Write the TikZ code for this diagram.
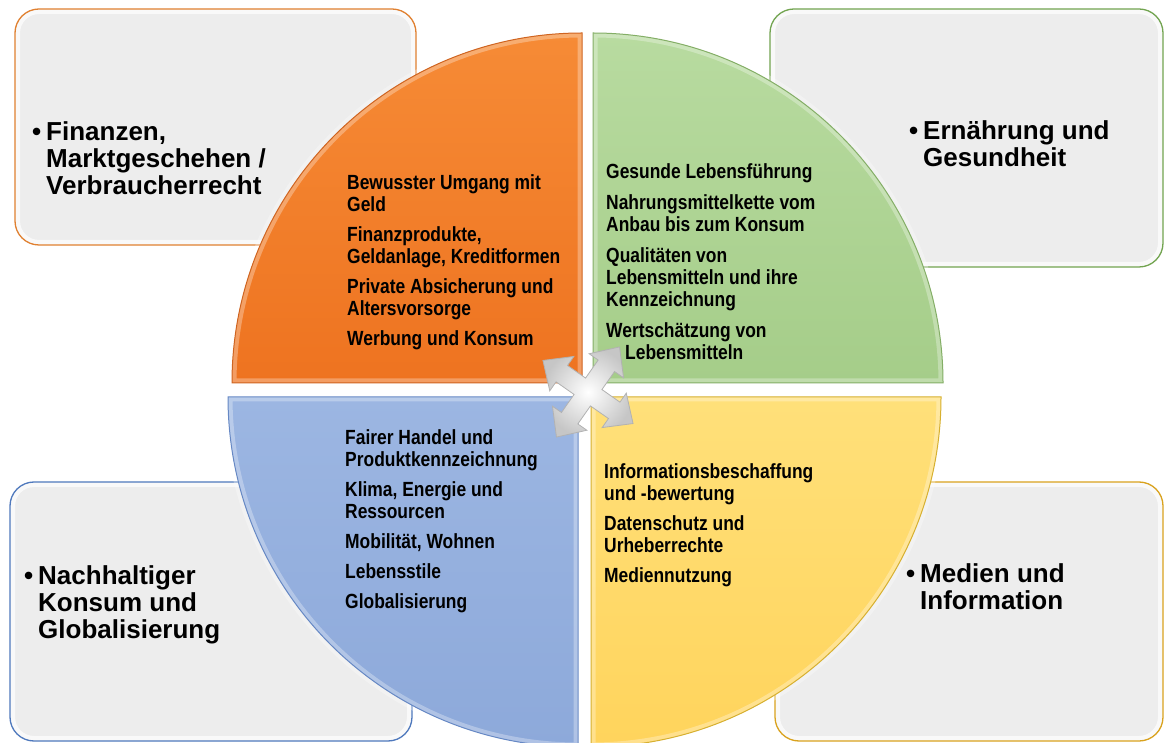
\documentclass[tikz,border=0pt]{standalone}
\usepackage{fontspec}
\setmainfont{Liberation Sans}
\newfontfamily\narrowfont[FakeStretch=0.85]{Liberation Sans}
\definecolor{boxgray}{HTML}{EDEDED}
\definecolor{lineorange}{HTML}{E08030}
\definecolor{linegreen}{HTML}{72A450}
\definecolor{lineblue}{HTML}{4F79BD}
\definecolor{linegold}{HTML}{D9A21E}
\definecolor{orangetop}{HTML}{F68B36}
\definecolor{orangebot}{HTML}{EE7320}
\definecolor{orangeedge}{HTML}{CF6420}
\definecolor{greentop}{HTML}{B8DBA0}
\definecolor{greenbot}{HTML}{A5CD89}
\definecolor{greenedge}{HTML}{84AE66}
\definecolor{bluetop}{HTML}{9CB6E2}
\definecolor{bluebot}{HTML}{8DA9DA}
\definecolor{blueedge}{HTML}{6688C4}
\definecolor{yellowtop}{HTML}{FFE07A}
\definecolor{yellowbot}{HTML}{FFD45C}
\definecolor{yellowedge}{HTML}{D7B030}
\begin{document}
\begin{tikzpicture}[x=1pt,y=1pt,
	box/.style={rounded corners=24pt, fill=boxgray,
		postaction={draw=white, draw opacity=.7, line width=10pt},
		postaction={draw=#1, line width=1.3pt}},
	quarter/.style={postaction={draw=white, draw opacity=.3, line width=9pt},
		postaction={draw=#1, line width=1pt}},
	topic/.style={anchor=north west, align=left, inner sep=0pt,
		font=\bfseries\fontsize{26}{27}\selectfont},
	items/.style={anchor=north west, align=left, inner sep=0pt,
		font=\narrowfont\bfseries\fontsize{20.5}{22}\selectfont}]
	\useasboundingbox (0,0) rectangle (1164,742);
	% the four fields
	\path[box=lineorange] (15,497) rectangle (416,733);
	\path[box=linegreen] (770,475) rectangle (1163,733);
	\path[box=lineblue] (10,1) rectangle (412,260);
	\path[box=linegold] (775,1) rectangle (1163,260);
	\node[topic] (finance) at (46,621) {\llap{•\hspace{5pt}}Finanzen,\\Marktgeschehen /\\Verbraucherrecht};
	\node[topic] (food) at (923,622) {\llap{•\hspace{5pt}}Ernährung und\\Gesundheit};
	\node[topic] (global) at (38,177) {\llap{•\hspace{5pt}}Nachhaltiger\\Konsum und\\Globalisierung};
	\node[topic] (media) at (920,179) {\llap{•\hspace{5pt}}Medien und\\Information};
	% circle in four quarters
	\path[quarter=orangeedge, top color=orangetop, bottom color=orangebot]
		(582,359) -- (232,359) arc[start angle=180, end angle=90, radius=350] -- cycle;
	\path[quarter=greenedge, top color=greentop, bottom color=greenbot]
		(593,359) -- (593,709) arc[start angle=90, end angle=0, radius=350] -- cycle;
	\path[quarter=blueedge, top color=bluetop, bottom color=bluebot]
		(578,345) -- (578,-5) arc[start angle=270, end angle=180, radius=350] -- cycle;
	\path[quarter=yellowedge, top color=yellowtop, bottom color=yellowbot]
		(591,345) -- (941,345) arc[start angle=0, end angle=-90, radius=350] -- cycle;
	\node[items] (money) at (347,568) {Bewusster Umgang mit\\Geld\\[8pt]Finanzprodukte,\\Geldanlage, Kreditformen\\[8pt]Private Absicherung und\\Altersvorsorge\\[8pt]Werbung und Konsum};
	\node[items] (health) at (606,579) {Gesunde Lebensführung\\[9pt]Nahrungsmittelkette vom\\Anbau bis zum Konsum\\[9pt]Qualitäten von\\Lebensmitteln und ihre\\Kennzeichnung\\[9pt]Wertschätzung von\\\hspace*{19pt}Lebensmitteln};
	\node[items] (climate) at (345,313) {Fairer Handel und\\Produktkennzeichnung\\[8pt]Klima, Energie und\\Ressourcen\\[8pt]Mobilität, Wohnen\\[8pt]Lebensstile\\[8pt]Globalisierung};
	\node[items] (info) at (604,279) {Informationsbeschaffung\\und -bewertung\\[8pt]Datenschutz und\\Urheberrechte\\[8pt]Mediennutzung};
	% four-way arrow in the middle
	\begin{scope}[shift={(588,350)}, rotate=55]
		\draw[draw=gray!60, line width=0.8pt, inner color=white, outer color=gray!45]
			(10,10) -- (32,10) -- (32,21) -- (55,0) -- (32,-21) -- (32,-10) -- (10,-10)
			-- (10,-32) -- (21,-32) -- (0,-55) -- (-21,-32) -- (-10,-32) -- (-10,-10)
			-- (-32,-10) -- (-32,-21) -- (-55,0) -- (-32,21) -- (-32,10) -- (-10,10)
			-- (-10,32) -- (-21,32) -- (0,55) -- (21,32) -- (10,32) -- cycle;
	\end{scope}
\end{tikzpicture}
\end{document}
